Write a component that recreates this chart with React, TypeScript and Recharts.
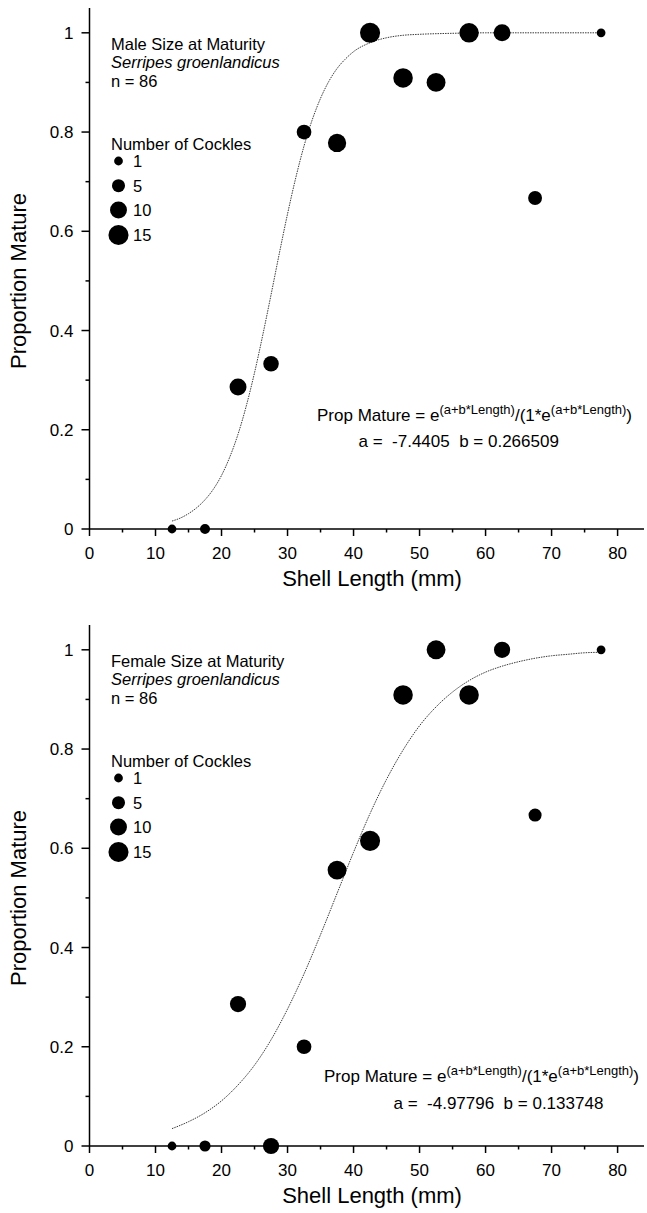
import { ComposedChart, Scatter, Line, XAxis, YAxis, ZAxis } from 'recharts'

// shell length classes (mm, bin midpoints)
const lengthBins = [12.5, 17.5, 22.5, 27.5, 32.5, 37.5, 42.5, 47.5, 52.5, 57.5, 62.5, 67.5, 77.5]

const maleProp = [0, 0, 0.286, 0.333, 0.8, 0.778, 1, 0.909, 0.9, 1, 1, 0.667, 1]
const maleCount = [1, 2, 10, 8, 7, 12, 15, 14, 13, 14, 10, 6, 1]

const femaleProp = [0, 0, 0.286, 0, 0.2, 0.556, 0.615, 0.909, 1, 0.909, 1, 0.667, 1]
const femaleCount = [1, 3, 9, 9, 7, 13, 15, 14, 13, 14, 9, 5, 1]

// fitted logistic curves
const maleFitX = [12.5, 13.75, 15, 16.25, 17.5, 18.75, 20, 21.25, 22.5, 23.75, 25, 26.25, 27.5, 28.75, 30, 31.25, 32.5, 33.75, 35, 36.25, 37.5, 38.75, 40, 42.5, 45, 47.5, 50, 55, 60, 65, 70, 77.5]
const maleFitY = [0.016, 0.022, 0.031, 0.043, 0.059, 0.08, 0.108, 0.145, 0.191, 0.248, 0.315, 0.391, 0.472, 0.555, 0.635, 0.708, 0.772, 0.825, 0.868, 0.902, 0.928, 0.947, 0.962, 0.98, 0.99, 0.995, 0.997, 0.999, 1, 1, 1, 1]

const femaleFitX = [12.5, 15, 17.5, 20, 22.5, 25, 27.5, 30, 32.5, 35, 37.5, 40, 42.5, 45, 47.5, 50, 52.5, 55, 57.5, 60, 62.5, 65, 67.5, 70, 72.5, 75, 77.5]
const femaleFitY = [0.035, 0.049, 0.067, 0.091, 0.123, 0.163, 0.214, 0.276, 0.347, 0.426, 0.509, 0.592, 0.67, 0.739, 0.798, 0.847, 0.885, 0.915, 0.938, 0.955, 0.967, 0.976, 0.983, 0.988, 0.991, 0.994, 0.995]

const xTicks = [0, 5, 10, 15, 20, 25, 30, 35, 40, 45, 50, 55, 60, 65, 70, 75, 80]
const yTicks = [0, 0.1, 0.2, 0.3, 0.4, 0.5, 0.6, 0.7, 0.8, 0.9, 1]
const legendCounts = [1, 5, 10, 15]

const FONT = '"Liberation Sans", Arial, Helvetica, sans-serif'
const Z_DOMAIN = [0, 15]
const Z_RANGE = [42, 317]

const legendRadius = (n: number) => {
  const area = Z_RANGE[0] + ((Z_RANGE[1] - Z_RANGE[0]) * (n - Z_DOMAIN[0])) / (Z_DOMAIN[1] - Z_DOMAIN[0])
  return Math.sqrt(area / Math.PI)
}

const XTick = (props: any) => {
  const { x, y, payload } = props
  const major = payload.value % 10 === 0
  return (
    <g>
      <line x1={x} x2={x} y1={y} y2={y + (major ? 7 : 3.5)} stroke="#000" strokeWidth={1.5} />
      {major && (
        <text x={x} y={y + 30} textAnchor="middle" fontSize={17} fontFamily={FONT} fill="#000">
          {payload.value}
        </text>
      )}
    </g>
  )
}

const YTick = (props: any) => {
  const { x, y, payload } = props
  const major = Math.round(payload.value * 10) % 2 === 0
  return (
    <g>
      <line x1={x} x2={x - (major ? 8 : 4)} y1={y} y2={y} stroke="#000" strokeWidth={1.5} />
      {major && (
        <text x={x - 16} y={y} dy="0.36em" textAnchor="end" fontSize={17} fontFamily={FONT} fill="#000">
          {String(Number(payload.value.toFixed(1)))}
        </text>
      )}
    </g>
  )
}

type Props = {
  top: number
  sex: string
  props: number[]
  counts: number[]
  fitX: number[]
  fitY: number[]
  coefs: string
  eqX: number
  eqY: number
  coefX: number
  coefY: number
}

function MaturityChart({ top, sex, props, counts, fitX, fitY, coefs, eqX, eqY, coefX, coefY }: Props) {
  const points = lengthBins.map((x, i) => ({ x, p: props[i], n: counts[i] }))
  const fit = fitX.map((x, i) => ({ x, p: fitY[i] }))
  const legendY = [161, 185.7, 210, 235]

  return (
    <div style={{ position: 'absolute', left: 0, top, width: 647, height: 605 }}>
      <ComposedChart width={647} height={605} margin={{ top: 8, right: 3, bottom: 0, left: 0 }}>
        <XAxis
          type="number"
          dataKey="x"
          domain={[0, 84]}
          ticks={xTicks}
          interval={0}
          height={76}
          axisLine={{ stroke: '#000', strokeWidth: 1.5 }}
          tickLine={false}
          tickSize={0}
          tickMargin={0}
          tick={(p: any) => <XTick {...p} />}
        />
        <YAxis
          type="number"
          dataKey="p"
          domain={[0, 1.05]}
          ticks={yTicks}
          interval={0}
          width={89.5}
          axisLine={{ stroke: '#000', strokeWidth: 1.5 }}
          tickLine={false}
          tickSize={0}
          tickMargin={0}
          tick={(p: any) => <YTick {...p} />}
        />
        <ZAxis type="number" dataKey="n" domain={Z_DOMAIN} range={Z_RANGE} />
        <Line
          data={fit}
          dataKey="p"
          type="monotone"
          stroke="#3a3a3a"
          strokeWidth={1}
          strokeDasharray="1.5 1"
          dot={false}
          activeDot={false}
          isAnimationActive={false}
        />
        <Scatter data={points} dataKey="p" fill="#000" isAnimationActive={false} />
      </ComposedChart>

      <svg width={647} height={605} style={{ position: 'absolute', left: 0, top: 0, pointerEvents: 'none' }} fontFamily={FONT} fill="#000">
        <text x={111} y={49.5} fontSize={16.5}>{sex} Size at Maturity</text>
        <text x={111} y={68} fontSize={16.5} fontStyle="italic">Serripes groenlandicus</text>
        <text x={111} y={87} fontSize={16.5}>n = 86</text>
        <text x={111} y={150} fontSize={16.5}>Number of Cockles</text>
        {legendCounts.map((n, i) => (
          <g key={n}>
            <circle cx={118.5} cy={legendY[i]} r={legendRadius(n)} fill="#000" />
            <text x={133} y={legendY[i]} dy="0.36em" fontSize={16.5}>{n}</text>
          </g>
        ))}

        <text x={eqX} y={eqY} fontSize={17}>
          Prop Mature = e
          <tspan fontSize={13} dy={-7}>(a+b*Length)</tspan>
          <tspan dy={7}>/(1*e</tspan>
          <tspan fontSize={13} dy={-7}>(a+b*Length)</tspan>
          <tspan dy={7}>)</tspan>
        </text>
        <text x={coefX} y={coefY} fontSize={17} style={{ whiteSpace: 'pre' }}>{coefs}</text>

        <text x={372} y={578} fontSize={22} textAnchor="middle" dominantBaseline="central">Shell Length (mm)</text>
        <text x={18} y={281} fontSize={22} textAnchor="middle" dominantBaseline="central" transform="rotate(-90 18 281)">
          Proportion Mature
        </text>
      </svg>
    </div>
  )
}

export default function App() {
  return (
    <div style={{ position: 'relative', width: 647, height: 1213, overflow: 'hidden', background: '#fff' }}>
      <style>{'body{margin:0}'}</style>
      <MaturityChart
        top={0}
        sex="Male"
        props={maleProp}
        counts={maleCount}
        fitX={maleFitX}
        fitY={maleFitY}
        coefs="a =  -7.4405  b = 0.266509"
        eqX={317}
        eqY={421}
        coefX={358.5}
        coefY={447}
      />
      <MaturityChart
        top={617}
        sex="Female"
        props={femaleProp}
        counts={femaleCount}
        fitX={femaleFitX}
        fitY={femaleFitY}
        coefs="a =  -4.97796  b = 0.133748"
        eqX={324}
        eqY={464.5}
        coefX={393.5}
        coefY={492}
      />
    </div>
  )
}
